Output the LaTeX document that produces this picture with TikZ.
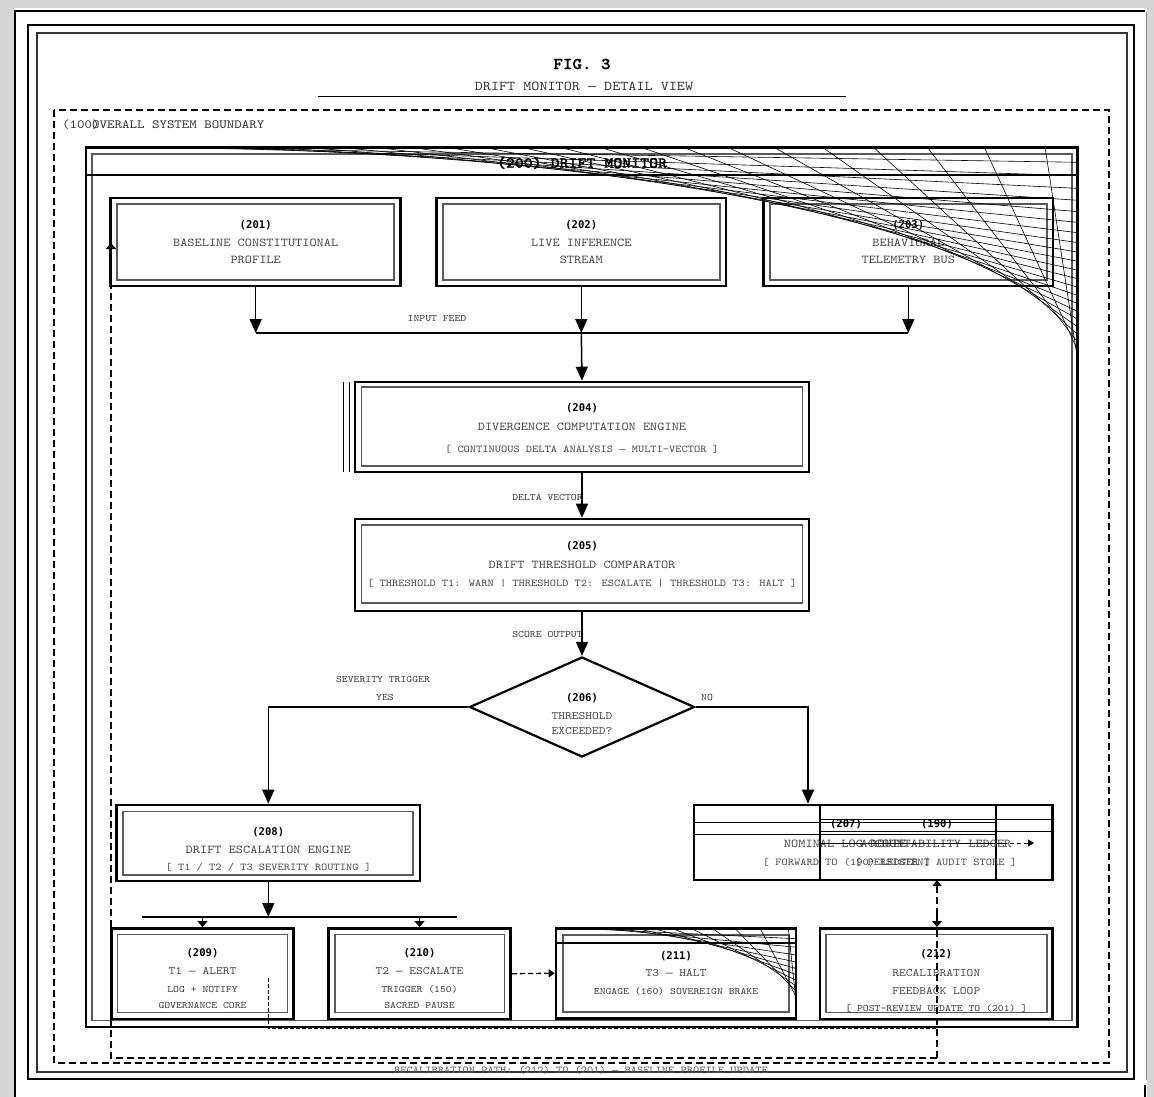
\documentclass[tikz,border=0pt]{standalone}
\usepackage{fontspec}
\newfontfamily\idf{DejaVu Sans Mono}
\newfontfamily\lmono{lmmono10-regular.otf}[FakeStretch=1.14]
\newfontfamily\tmono{lmmonolt10-bold.otf}[FakeStretch=1.1,FakeBold=1.2]
\newfontfamily\dashf{Liberation Mono}
\newcommand\emd{{\dashf —}}
\usetikzlibrary{arrows.meta,shapes.geometric}
\begin{document}
\begin{tikzpicture}[x=1pt,y=-1pt,
  obox/.style n args={2}{draw=black,line width=2.6pt,inner sep=0,rectangle,minimum width=#1,minimum height=#2},
  ibox/.style n args={2}{draw=black!65,line width=1.1pt,inner sep=0,rectangle,minimum width=#1,minimum height=#2},
  idt/.style={font=\idf\bfseries\fontsize{10.6}{10.6}\selectfont,inner sep=0,text=black},
  mt/.style={font=\lmono\fontsize{12}{12}\selectfont,inner sep=0,text=black!72},
  mtb/.style={font=\lmono\fontsize{11.3}{11.3}\selectfont,inner sep=0,text=black!72},
  st/.style={font=\lmono\fontsize{10.4}{10.4}\selectfont,inner sep=0,text=black!72},
  lab/.style={font=\lmono\fontsize{9.8}{9.8}\selectfont,inner sep=0,text=black!78},
  arr/.style={line width=1.5pt,-{Triangle[length=14pt,width=12pt]}},
  sarr/.style={line width=1.2pt,-{Triangle[length=6pt,width=10pt]}},
  conn/.style={line width=1.5pt},
  dsh/.style={dash pattern=on 7pt off 4pt,line width=1.4pt},
  fine/.style={dash pattern=on 4pt off 2pt,line width=1.1pt},
  fan/.style={line width=0.6pt}
]
\useasboundingbox (0,0) rectangle (1154,1097);
% page
\fill[black!16] (0,0) rectangle (1154,1097);
\fill[white] (14,8) rectangle (1147,1097);
\draw[line width=2pt] (15,1097) -- (15,11.5) -- (1145,11.5);
\draw[black!45,line width=0.8pt] (1146,12) -- (1146,1080);
\draw[line width=2.5pt] (1145,1085) -- (1145,1097);
% frames
\draw[line width=2.8pt] (28,25) rectangle (1134,1079);
\draw[line width=1.2pt,black!80] (37,33) rectangle (1127,1072);
% title
\node[font=\tmono\fontsize{16.5}{16.5}\selectfont,inner sep=0] (fig) at (582,64) {FIG. 3};
\node[font=\lmono\fontsize{13.5}{13.5}\selectfont,inner sep=0,text=black!80] (sub) at (584,86) {DRIFT MONITOR \emd{} DETAIL VIEW};
\coordinate (ulA) at (318,97); \coordinate (ulB) at (846,97);
\draw[line width=1pt] (ulA) -- (ulB);
% system boundary
\draw[dsh] (54,110) rectangle (1109,1063);
\node[font=\lmono\fontsize{12.5}{12.5}\selectfont,inner sep=0,anchor=west,text=black!80] (l100) at (62,125) {(100)};
\node[font=\lmono\fontsize{12.5}{12.5}\selectfont,inner sep=0,anchor=west,text=black!80] (l100b) at (92,125) {OVERALL SYSTEM BOUNDARY};
% 200 drift monitor
\node[obox={991.5}{879.5}] (b200) at (581.75,587.25) {};
\node[ibox={980}{866.7}] (i200) at (582,587.4) {};
\draw[line width=2.6pt] (86,175) -- (1077.5,175);
\node[font=\tmono\fontsize{15.5}{15.5}\selectfont,inner sep=0] (t200) at (582,163) {(200) DRIFT MONITOR};
% top boxes
\node[obox={290}{88}] (b201) at (255.7,242) {};
\node[ibox={277}{76}] (i201) at (255.5,242) {};
\node[idt] (n201) at (255.7,225) {(201)};
\node[mt] (t201a) at (255.7,243) {BASELINE CONSTITUTIONAL};
\node[mt] (t201b) at (255.7,260) {PROFILE};
\node[obox={289.3}{88}] (b202) at (581.3,242) {};
\node[ibox={277}{76}] (i202) at (581.5,242) {};
\node[idt] (n202) at (581.3,225) {(202)};
\node[mt] (t202a) at (581.3,243) {LIVE INFERENCE};
\node[mt] (t202b) at (581.3,260) {STREAM};
\node[obox={289.5}{88}] (b203) at (908.3,242) {};
\node[ibox={277}{76}] (i203) at (908.5,242) {};
\node[idt] (n203) at (908.3,225) {(203)};
\node[mt] (t203a) at (908.3,243) {BEHAVIORAL};
\node[mt] (t203b) at (908.3,260) {TELEMETRY BUS};
% input bus
\coordinate (bA) at (255.7,333); \coordinate (bB) at (581.3,333); \coordinate (bC) at (908.3,333);
\draw[arr] (b201.south) -- (bA);
\draw[arr] (b202.south) -- (bB);
\draw[arr] (b203.south) -- (bC);
\draw[conn] (bA) -- (bC);
\node[lab] (tin) at (437,319) {INPUT FEED};
% 204
\node[obox={454}{90}] (b204) at (582,427) {};
\node[ibox={441}{79}] (i204) at (582.2,426.5) {};
\draw[line width=1.3pt] (343.3,382) -- (343.3,472);
\draw[line width=1.3pt] (349.3,382) -- (349.3,472);
\node[idt] (n204) at (582,408) {(204)};
\node[mt] (t204a) at (582,427) {DIVERGENCE COMPUTATION ENGINE};
\node[st] (t204b) at (582,449) {[ CONTINUOUS DELTA ANALYSIS \emd{} MULTI-VECTOR ]};
\draw[arr] (bB) -- (b204.north);
% 205
\node[obox={454}{92}] (b205) at (582,565) {};
\node[ibox={441}{78}] (i205) at (582.2,564) {};
\node[idt] (n205) at (582,546) {(205)};
\node[mt] (t205a) at (582,565) {DRIFT THRESHOLD COMPARATOR};
\node[st] (t205b) at (582,583) {[ THRESHOLD T1: WARN | THRESHOLD T2: ESCALATE | THRESHOLD T3: HALT ]};
\draw[arr] (b204.south) -- (b205.north);
\node[lab] (tdv) at (547.5,497) {DELTA VECTOR};
% 206 diamond
\node[diamond,draw,line width=2.2pt,inner sep=0,minimum width=225pt,minimum height=100pt] (d206) at (582,707) {};
\node[idt] (n206) at (582,698) {(206)};
\node[mtb] (t206a) at (582,716) {THRESHOLD};
\node[mtb] (t206b) at (582,731) {EXCEEDED?};
\draw[arr] (b205.south) -- (d206.north);
\node[lab] (tso) at (547.5,635) {SCORE OUTPUT};
\node[lab] (tsev) at (383,680) {SEVERITY TRIGGER};
\node[lab] (tyes) at (385,697) {YES};
\node[lab] (tno) at (707,697) {NO};
% 208
\node[obox={303.3}{76}] (b208) at (268.3,843) {};
\node[ibox={290}{63.3}] (i208) at (268,843.3) {};
\node[idt] (n208) at (268.3,832) {(208)};
\node[mt] (t208a) at (268.3,850) {DRIFT ESCALATION ENGINE};
\node[st] (t208b) at (268.3,867) {[ T1 / T2 / T3 SEVERITY ROUTING ]};
\coordinate (yesC) at (268.3,707);
\draw[arr] (d206.west) -- (yesC) -- (b208.north);
% 207 and 190 (overlapping)
\node[obox={302}{75}] (b207) at (845,842.5) {};
\node[obox={232.7}{75}] (b190) at (936.3,842.5) {};
\draw[line width=1pt] (694,822) -- (996,822);
\draw[line width=1pt] (694,834) -- (996,834);
\draw[line width=1pt] (820,819) -- (1052,819);
\draw[line width=1pt] (820,831) -- (1052,831);
\node[idt] (n207) at (846,824) {(207)};
\node[idt] (n190) at (937,824) {(190)};
\node[mt] (t207a) at (845,844) {NOMINAL LOG ROUTE};
\node[st] (t207b) at (847,862) {[ FORWARD TO (190) LEDGER ]};
\node[mt] (t190a) at (936,844) {ACCOUNTABILITY LEDGER};
\node[st] (t190b) at (936,862) {[ PERSISTENT AUDIT STORE ]};
\coordinate (s0) at (821,843); \coordinate (s1) at (1003,843); \coordinate (s2) at (1034,843);
\draw[line width=0.9pt] (s0) -- (s1);
\draw[dash pattern=on 4pt off 3pt,line width=1pt,-{Triangle[length=6pt,width=7pt]}] (s1) -- (s2);
\coordinate (noC) at (808,707);
\draw[arr] (d206.east) -- (noC) -- (noC |- b207.north);
% bottom row
\node[obox={181.6}{90.7}] (b209) at (202.5,973.7) {};
\node[ibox={170}{77.7}] (i209) at (202.3,973.2) {};
\node[idt] (n209) at (202.5,953) {(209)};
\node[mtb] (t209a) at (202.5,971) {T1 \emd{} ALERT};
\node[lab] (t209b) at (202.5,989) {LOG + NOTIFY};
\node[lab] (t209c) at (202.5,1005) {GOVERNANCE CORE};
\node[obox={182.4}{90.7}] (b210) at (419.5,973.7) {};
\node[ibox={169.3}{77.7}] (i210) at (419.6,973.2) {};
\node[idt] (n210) at (419.5,953) {(210)};
\node[mtb] (t210a) at (419.5,971) {T2 \emd{} ESCALATE};
\node[lab] (t210b) at (419.5,989) {TRIGGER (150)};
\node[lab] (t210c) at (419.5,1005) {SACRED PAUSE};
\node[obox={240}{90}] (b211) at (676,973.2) {};
\node[ibox={226}{77}] (i211) at (676,973.5) {};
\draw[line width=2pt] (556,943.3) -- (796,943.3);
\node[idt] (n211) at (676,956) {(211)};
\node[mtb] (t211a) at (676,973) {T3 \emd{} HALT};
\node[lab] (t211b) at (676,991) {ENGAGE (160) SOVEREIGN BRAKE};
\node[obox={232.5}{90.7}] (b212) at (936.3,973.7) {};
\node[ibox={221}{77.7}] (i212) at (936.5,973.2) {};
\node[idt] (n212) at (936.3,954) {(212)};
\node[mtb] (t212a) at (936.3,973) {RECALIBRATION};
\node[mtb] (t212b) at (936.3,991) {FEEDBACK LOOP};
\node[lab] (t212c) at (936.3,1008) {[ POST-REVIEW UPDATE TO (201) ]};
% escalation bus
\coordinate (b2m) at (268.3,917); \coordinate (b2l) at (142,917); \coordinate (b2r) at (457,917);
\draw[arr] (b208.south) -- (b2m);
\draw[line width=1.3pt] (b2l) -- (b2r);
\draw[sarr] (b209.north |- b2m) -- (b209.north);
\draw[sarr] (b210.north |- b2m) -- (b210.north);
\draw[dash pattern=on 5pt off 3pt,line width=1.3pt,-{Triangle[length=6pt,width=8pt]}] (b210.east) -- (b211.west);
% fine dashed path from 209
\coordinate (dp0) at (268.3,978); \coordinate (dp1) at (268.3,1028); \coordinate (dp2) at (937,1028);
\draw[fine] (dp0) -- (dp1) -- (dp2);
% recalibration path
\coordinate (rc1) at (937,1058); \coordinate (rc0) at (111,1058); \coordinate (fbTop) at (111,243);
\coordinate (r212) at (937,914);
\draw[dsh,line width=1.2pt,-{Triangle[length=6pt,width=9pt]}] (rc1) -- (937,880);
\draw[sarr] (r212) -- (937,927);
\draw[dsh,line width=1.3pt,-{Triangle[length=6pt,width=10pt]}] (rc1) -- (rc0) -- (fbTop);
\node[st,text=black!65] (trc) at (581,1070) {RECALIBRATION PATH: (212) TO (201) \emd{} BASELINE PROFILE UPDATE};
% artefact fans (tangents of quarter ellipses)
\foreach \u in {2,4,...,44} {\draw[fan] ({150+927*tan(\u)},148) -- (1077,{360-212*tan(45-\u)});}
\foreach \u in {4,8,...,44} {\draw[fan] ({575+221*tan(\u)},929) -- (796,{1003-74*tan(45-\u)});}
\end{tikzpicture}
\end{document}
